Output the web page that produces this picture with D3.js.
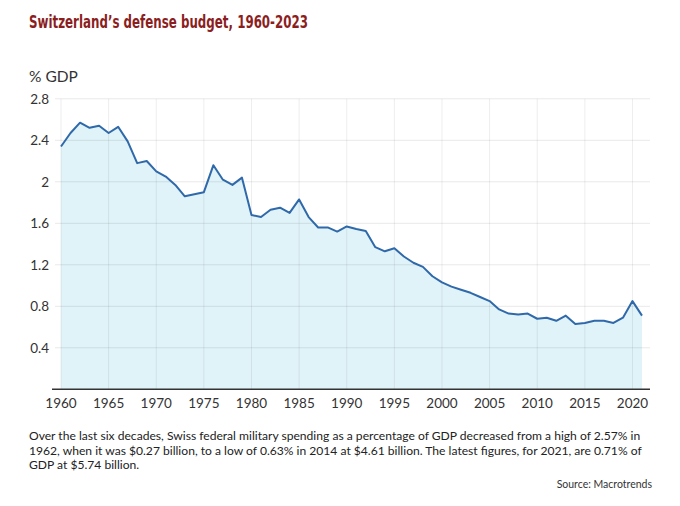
<!DOCTYPE html>
<html><head><meta charset="utf-8">
<script src="https://cdn.jsdelivr.net/npm/d3@7"></script>
<style>
html,body{margin:0;padding:0;background:#fff;}
svg{display:block;}
</style></head>
<body>
<svg id="chart" width="680" height="506"></svg>
<script>
const years = d3.range(1960, 2022);
const values = [2.34,2.47,2.57,2.52,2.54,2.47,2.53,2.39,2.18,2.20,
  2.10,2.05,1.97,1.86,1.88,1.90,2.16,2.02,1.97,2.04,
  1.68,1.66,1.73,1.75,1.70,1.83,1.66,1.56,1.56,1.52,
  1.57,1.545,1.525,1.37,1.33,1.36,1.28,1.22,1.18,1.09,
  1.03,0.99,0.96,0.93,0.89,0.85,0.77,0.73,0.72,0.73,
  0.68,0.69,0.66,0.71,0.63,0.64,0.66,0.66,0.64,0.69,
  0.85,0.71];
const xTicks = d3.range(1960, 2021, 5);
const yTicks = [0.4,0.8,1.2,1.6,2,2.4,2.8];
const title = "Switzerland\u2019s defense budget, 1960-2023";
const yLabel = "% GDP";
const caption = [
  "Over the last six decades, Swiss federal military spending as a percentage of GDP decreased from a high of 2.57% in",
  "1962, when it was $0.27 billion, to a low of 0.63% in 2014 at $4.61 billion. The latest figures, for 2021, are 0.71% of",
  "GDP at $5.74 billion."
];
const source = "Source: Macrotrends";

const data = years.map((y,i)=>({year:y, value:values[i]}));
const svg = d3.select("#chart");
const font = "Lato, 'Open Sans', sans-serif";

const x = d3.scaleLinear().domain([1960,2021]).range([61,642]);
const y = d3.scaleLinear().domain([0,2.8]).range([389.3,98.8]);

// title
svg.append("text").attr("x",29).attr("y",27.5)
  .attr("font-family","'Liberation Sans Narrow','DejaVu Sans Condensed',sans-serif")
  .attr("font-size",18).attr("font-weight","bold").attr("fill","#8b1e1e")
  .attr("textLength",279).attr("lengthAdjust","spacingAndGlyphs")
  .text(title);

svg.append("text").attr("x",29).attr("y",82)
  .attr("font-family",font).attr("font-size",15.5).attr("fill","#333")
  .text(yLabel);

// area
const area = d3.area().x(d=>x(d.year)).y0(y(0)).y1(d=>y(d.value));
svg.append("path").datum(data).attr("d",area).attr("fill","#e0f3f8");

// gridlines
const grid = svg.append("g");
grid.selectAll("line.h").data(yTicks).enter().append("line")
  .attr("x1",55).attr("x2",650).attr("y1",d=>y(d)).attr("y2",d=>y(d))
  .attr("stroke","rgba(0,0,0,0.09)").attr("stroke-width",1);
grid.selectAll("line.v").data(xTicks).enter().append("line")
  .attr("x1",d=>x(d)).attr("x2",d=>x(d)).attr("y1",y(2.8)).attr("y2",y(0))
  .attr("stroke","rgba(0,0,0,0.07)").attr("stroke-width",1);

// line
const line = d3.line().x(d=>x(d.year)).y(d=>y(d.value));
svg.append("path").datum(data).attr("d",line)
  .attr("fill","none").attr("stroke","#2f69aa").attr("stroke-width",2)
  .attr("stroke-linejoin","round");

// baseline
svg.append("line").attr("x1",52).attr("x2",650).attr("y1",y(0)).attr("y2",y(0))
  .attr("stroke","#333").attr("stroke-width",1.5);

// y tick labels
svg.append("g").selectAll("text").data(yTicks).enter().append("text")
  .attr("x",49).attr("y",d=>y(d)).attr("dy","0.35em").attr("text-anchor","end")
  .attr("font-family",font).attr("font-size",13.5).attr("fill","#333")
  .text(d=>d3.format("")(d));

// x tick labels
svg.append("g").selectAll("text").data(xTicks).enter().append("text")
  .attr("x",d=>x(d)).attr("y",403).attr("dy","0.35em").attr("text-anchor","middle")
  .attr("font-family",font).attr("font-size",13.5).attr("fill","#333")
  .text(d=>d);

// caption
svg.append("g").selectAll("text").data(caption).enter().append("text")
  .attr("x",29).attr("y",(d,i)=>436+i*14.6).attr("dy","0.35em")
  .attr("font-family",font).attr("font-size",12.1).attr("fill","#222")
  .text(d=>d);

svg.append("text").attr("x",652).attr("y",484).attr("dy","0.35em")
  .attr("text-anchor","end").attr("font-family",font).attr("font-size",10.5)
  .attr("fill","#333").text(source);
</script>
</body></html>
